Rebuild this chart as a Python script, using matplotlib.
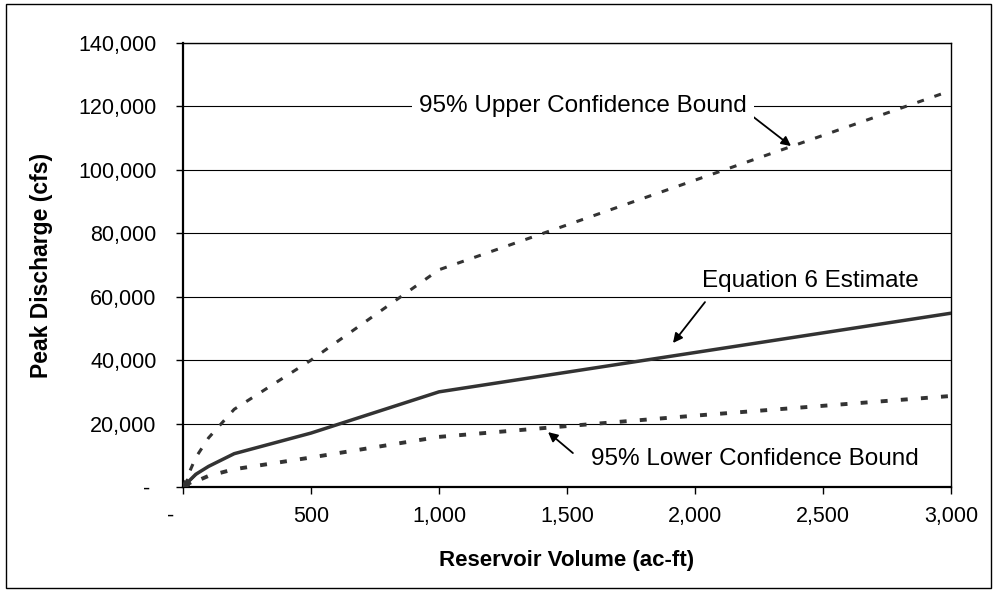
import numpy as np
import matplotlib
matplotlib.use("Agg")
import matplotlib.pyplot as plt
from matplotlib.patches import Rectangle
from matplotlib.ticker import FuncFormatter

plt.rcParams["font.family"] = ["Liberation Sans", "DejaVu Sans"]
plt.rcParams["lines.scale_dashes"] = False

# Data
est_volume = [0, 50, 100, 200, 500, 1000, 3000]
estimate = [0, 4000, 6500, 10500, 17000, 30000, 54800]

upper_volume = [0, 50, 100, 200, 500, 1000, 3000]
upper = [0, 9300, 15500, 24500, 40000, 68500, 125000]

lower_volume = [0, 100, 200, 500, 1000, 1500, 2000, 2500, 3000]
lower = [0, 3500, 5600, 9300, 15800, 19200, 22500, 25600, 28700]

x_ticks = [0, 500, 1000, 1500, 2000, 2500, 3000]
y_ticks = [0, 20000, 40000, 60000, 80000, 100000, 120000, 140000]

fig = plt.figure(figsize=(9.95, 5.9), dpi=100)
ax = fig.add_axes([0.1839, 0.1746, 0.7719, 0.7525])

# outer chart border
fig.patches.append(Rectangle((0.006, 0.004), 0.990, 0.990, transform=fig.transFigure,
                             fill=False, edgecolor="black", linewidth=1.0))

ax.plot(est_volume, estimate, color="#333333", lw=2.5, solid_joinstyle="miter", zorder=3)
ax.plot(upper_volume, upper, color="#333333", lw=2.2, dashes=(5, 8), zorder=3)
ax.plot(lower_volume, lower, color="#333333", lw=2.8, dashes=(5, 9.5), zorder=3)

ax.set_xlim(0, 3000)
ax.set_ylim(0, 140000)
ax.set_xticks(x_ticks)
ax.set_yticks(y_ticks)
ax.xaxis.set_major_formatter(FuncFormatter(lambda v, p: "-    " if v == 0 else f"{v:,.0f}"))
ax.yaxis.set_major_formatter(FuncFormatter(lambda v, p: "- " if v == 0 else f"{v:,.0f}"))
ax.tick_params(direction="out", length=5, width=1, labelsize=15.5, color="black")
ax.tick_params(axis="x", pad=9)
ax.tick_params(axis="y", pad=14)

ax.yaxis.grid(True, color="black", lw=0.8)
ax.set_axisbelow(True)
for side in ["left", "bottom"]:
    ax.spines[side].set_linewidth(1.6)
for side in ["top", "right"]:
    ax.spines[side].set_linewidth(1.0)

ax.set_xlabel("Reservoir Volume (ac-ft)", fontsize=16, fontweight="bold", labelpad=16)
ax.set_ylabel("Peak Discharge (cfs)", fontsize=16.5, fontweight="bold", labelpad=18)

arrow = dict(arrowstyle="-|>", color="black", lw=1.3, mutation_scale=14, shrinkA=0, shrinkB=0)

ax.text(1562, 120000, "95% Upper Confidence Bound", fontsize=17.5, ha="center", va="center",
        bbox=dict(boxstyle="square,pad=0.3", fc="white", ec="none"), zorder=4)
ax.annotate("", xy=(2375, 107500), xytext=(2223, 117000), arrowprops=arrow)
ax.annotate("", xy=(1914, 45400), xytext=(2039, 58300), arrowprops=arrow)
ax.text(2450, 65000, "Equation 6 Estimate", fontsize=17.5, ha="center", va="center")
ax.annotate("", xy=(1426, 17300), xytext=(1523, 10700), arrowprops=arrow)
ax.text(2234, 8800, "95% Lower Confidence Bound", fontsize=17.5, ha="center", va="center")
ax.annotate("", xy=(0, 0), xytext=(60, 4500),
            arrowprops=dict(arrowstyle="-|>", color="#333333", lw=1.5, mutation_scale=10,
                            shrinkA=0, shrinkB=0))

fig.savefig("out.png", dpi=100)
